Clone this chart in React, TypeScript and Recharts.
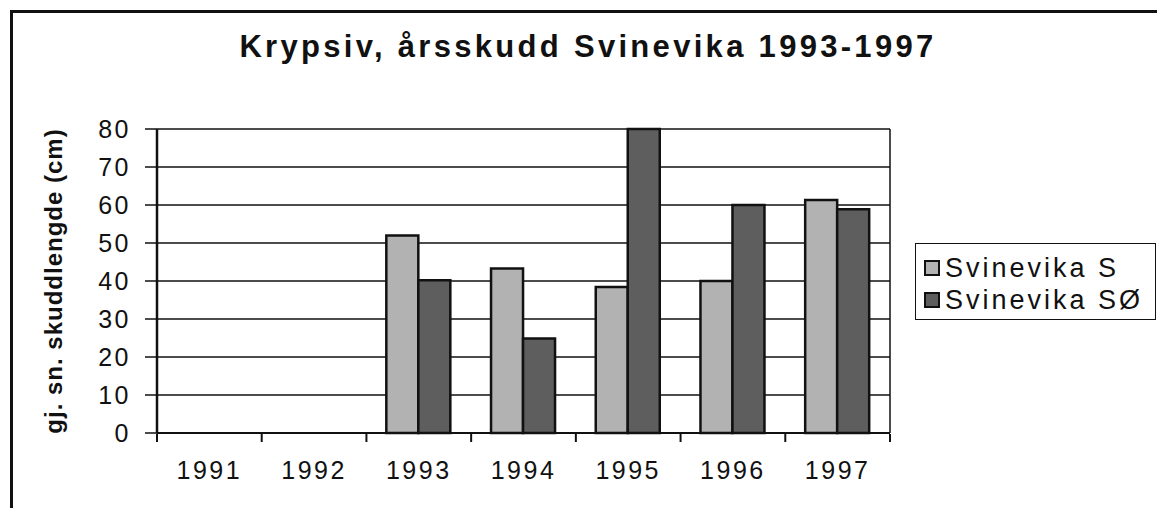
import { Bar, BarChart, CartesianGrid, XAxis, YAxis } from 'recharts'

const years = ['1991', '1992', '1993', '1994', '1995', '1996', '1997']
const svinevikaS = [null, null, 52, 43.3, 38.4, 40, 61.3]
const svinevikaSO = [null, null, 40.2, 24.9, 80, 60, 58.9]
const yTicks = [0, 10, 20, 30, 40, 50, 60, 70, 80]

const seriesNames = ['Svinevika S', 'Svinevika SØ']
const colors = ['#b2b2b2', '#5e5e5e']

const data = years.map((year, i) => ({
  year,
  idx: i,
  s: svinevikaS[i],
  so: svinevikaSO[i],
}))

// category boundaries for the tick marks between the years
const edgeTicks = [...years.map((_, i) => i - 0.5), years.length - 0.5]

const font = '"Liberation Sans", Arial, sans-serif'
const tickStyle = { fontSize: 25, fill: '#111', fontFamily: font, letterSpacing: 2.5 }

export default function App() {
  return (
    <div style={{ position: 'absolute', left: 0, top: 0, width: 1157, height: 508, background: '#fff', overflow: 'hidden', fontFamily: font }}>
      <div style={{ position: 'absolute', left: 10, top: 10, width: 1200, height: 600, borderTop: '3px solid #111', borderLeft: '3px solid #111' }} />
      <div
        style={{
          position: 'absolute',
          left: 0,
          width: 1176,
          top: 29,
          textAlign: 'center',
          fontSize: 31,
          fontWeight: 'bold',
          letterSpacing: 3.3,
          color: '#111',
        }}
      >
        Krypsiv, årsskudd Svinevika 1993-1997
      </div>

      <BarChart
        width={1157}
        height={508}
        data={data}
        margin={{ top: 129, right: 267, bottom: 73, left: 20 }}
        barCategoryGap="19%"
        barGap={0}
        style={{ position: 'absolute', left: 0, top: 0 }}
      >
        <CartesianGrid
          stroke="#111"
          strokeWidth={1.5}
          verticalCoordinatesGenerator={({ offset }: any) => [offset.left, offset.left + offset.width]}
        />
        <XAxis
          dataKey="year"
          height={1}
          tickLine={false}
          axisLine={{ stroke: '#111', strokeWidth: 2 }}
          tickSize={6}
          tickMargin={22}
          tick={tickStyle}
          interval={0}
        />
        <XAxis
          xAxisId="edge"
          dataKey="idx"
          type="number"
          scale="linear"
          domain={[-0.5, years.length - 0.5]}
          allowDataOverflow
          ticks={edgeTicks}
          interval={0}
          height={1}
          tick={() => <g />}
          tickSize={8}
          tickLine={{ stroke: '#111', strokeWidth: 2 }}
          axisLine={false}
        />
        <YAxis
          width={137}
          domain={[0, 80]}
          ticks={yTicks}
          interval={0}
          tickSize={12}
          tickMargin={14}
          tick={tickStyle}
          tickLine={{ stroke: '#111', strokeWidth: 1.5 }}
          axisLine={{ stroke: '#111', strokeWidth: 2.5 }}
          label={{
            value: 'gj. sn. skuddlengde (cm)',
            angle: -90,
            position: 'insideLeft',
            offset: 33,
            style: { textAnchor: 'middle', fontSize: 24, fontWeight: 'bold', fill: '#111', fontFamily: font, letterSpacing: 1 },
          }}
        />
        <Bar dataKey="s" name={seriesNames[0]} fill={colors[0]} stroke="#111" strokeWidth={2.5} isAnimationActive={false} />
        <Bar dataKey="so" name={seriesNames[1]} fill={colors[1]} stroke="#111" strokeWidth={2.5} isAnimationActive={false} />
      </BarChart>

      <div
        style={{
          position: 'absolute',
          left: 915,
          top: 243,
          width: 241,
          height: 77,
          border: '1.5px solid #111',
          boxSizing: 'border-box',
          paddingTop: 8,
          paddingLeft: 8,
        }}
      >
        {seriesNames.map((name, i) => (
          <div key={name} style={{ display: 'flex', alignItems: 'center', height: 32, fontSize: 27, letterSpacing: 3, color: '#111' }}>
            <span style={{ display: 'inline-block', width: 12, height: 12, background: colors[i], border: '2px solid #111', marginRight: 5 }} />
            {name}
          </div>
        ))}
      </div>
    </div>
  )
}
